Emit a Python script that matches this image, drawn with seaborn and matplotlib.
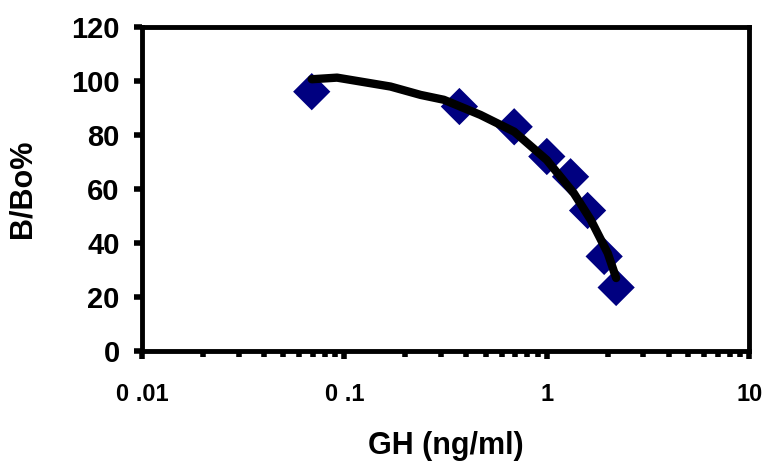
import matplotlib
matplotlib.use("Agg")
import matplotlib.pyplot as plt
import seaborn as sns
import pandas as pd
from matplotlib.ticker import LogLocator, FixedLocator, NullFormatter

# Measured points (GH concentration vs B/Bo%)
gh_conc = [0.069, 0.37, 0.69, 1.0, 1.31, 1.59, 1.92, 2.2]
b_bo = [96, 90.5, 83, 72, 64.5, 52, 35, 23.5]

# Fitted curve
fit_x = [0.069, 0.092, 0.169, 0.238, 0.31, 0.47, 0.69, 1.0, 1.36, 1.65, 2.0, 2.2]
fit_y = [100.6, 101.2, 97.9, 94.8, 93.0, 87.4, 81.2, 70.7, 58.4, 48.5, 36.2, 27.0]

x_ticks = [0.01, 0.1, 1, 10]
x_tick_labels = ["0 .01", "0 .1", "1", "10"]
y_ticks = [0, 20, 40, 60, 80, 100, 120]

sns.set_style("white")
plt.rcParams['font.family'] = ['Liberation Sans', 'DejaVu Sans']
plt.rcParams['text.color'] = 'black'
plt.rcParams['axes.labelcolor'] = 'black'
plt.rcParams['xtick.color'] = 'black'
plt.rcParams['ytick.color'] = 'black'

fig = plt.figure(figsize=(7.63, 4.63), dpi=100)
ax = fig.add_axes([0.186, 0.242, 0.796, 0.700])

df_pts = pd.DataFrame({'gh': gh_conc, 'bbo': b_bo})
df_fit = pd.DataFrame({'gh': fit_x, 'bbo': fit_y})

sns.scatterplot(data=df_pts, x='gh', y='bbo', ax=ax, marker='D', s=360,
                color='#000080', edgecolor='none', zorder=2)
sns.lineplot(data=df_fit, x='gh', y='bbo', ax=ax, color='black', linewidth=6,
             solid_capstyle='round', solid_joinstyle='round', zorder=3, sort=False)

ax.set_xscale('log')
ax.set_xlim(0.01, 10)
ax.set_ylim(0, 120)
ax.xaxis.set_major_locator(FixedLocator(x_ticks))
ax.set_xticklabels(x_tick_labels)
ax.xaxis.set_minor_locator(LogLocator(base=10, subs=range(2, 10)))
ax.xaxis.set_minor_formatter(NullFormatter())
ax.set_yticks(y_ticks)

for s in ax.spines.values():
    s.set_linewidth(3.5)
    s.set_color('black')

ax.tick_params(axis='y', which='major', direction='out', length=6, width=4,
               labelsize=21, pad=10, left=True, labelcolor='black')
ax.tick_params(axis='x', which='major', direction='out', length=6, width=4,
               labelsize=17, pad=17, bottom=True, labelcolor='black')
ax.tick_params(axis='x', which='minor', direction='out', length=4, width=4, bottom=True)

for lbl in ax.get_yticklabels():
    lbl.set_fontweight('bold')
for lbl in ax.get_xticklabels():
    lbl.set_fontweight('bold')

ax.set_xlabel("GH (ng/ml)", fontsize=22, fontweight='bold', labelpad=18, color='black')
ax.set_ylabel("B/Bo%", fontsize=22, fontweight='bold', labelpad=24, color='black')

fig.savefig("out.png", dpi=100)
